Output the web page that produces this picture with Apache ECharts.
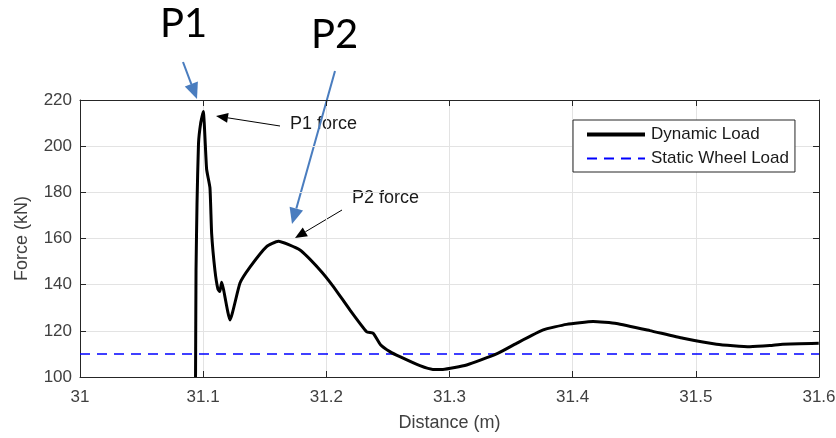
<!DOCTYPE html>
<html>
<head>
<meta charset="utf-8">
<script src="https://cdn.jsdelivr.net/npm/echarts@6/dist/echarts.min.js"></script>
<style>
  html, body { margin: 0; padding: 0; background: #ffffff; }
  #chart-container { width: 836px; height: 438px; }
</style>
</head>
<body>
<div id="chart-container"></div>
<script>
// distance (m) and force (kN)
const distance = [
    31.0938, 31.0939, 31.0942, 31.0950, 31.0962, 31.0980, 31.1001, 31.1028, 31.1055,
    31.1069, 31.1096, 31.1120, 31.1135, 31.1150, 31.1165, 31.1218, 31.1299, 31.1380,
    31.1515, 31.1610, 31.1786, 31.1948, 31.2054, 31.2192, 31.2327, 31.2381, 31.2440,
    31.2516, 31.2597, 31.2760, 31.2865, 31.2946, 31.3139, 31.3382, 31.3544, 31.3761,
    31.3950, 31.4166, 31.4356, 31.4627, 31.4897, 31.5168, 31.5438, 31.5601, 31.5706,
    31.5998
];
const dynamicLoad = [
    100, 111.7, 146, 175, 201, 210, 215, 190, 182,
    162, 146, 138, 137, 141, 138, 124.7, 140.7, 147.6,
    156.5, 158.8, 155, 146.4, 139.4, 129, 119.6, 118.9, 114,
    111, 108.8, 104.9, 103.3, 103.3, 105.2, 110, 114.6, 120.4,
    122.8, 124, 123.2, 120.1, 116.8, 114.2, 113.1, 113.6, 114.2,
    114.6
];
const staticDistance = [31, 31.6];
const staticLoad = [110, 110];

const xTicks = [31, 31.1, 31.2, 31.3, 31.4, 31.5, 31.6];
const yTicks = [100, 120, 140, 160, 180, 200, 220];

const axisColor = '#262626';
const labelColor = '#404040';
const gridColor = '#e3e3e3';
const fontName = '"Liberation Sans", Arial, sans-serif';

const makeArrow = (x1, y1, x2, y2, color, width, headLen, headHalf) => {
    const ang = Math.atan2(y2 - y1, x2 - x1);
    const bx = x2 - headLen * Math.cos(ang);
    const by = y2 - headLen * Math.sin(ang);
    const px = -Math.sin(ang) * headHalf;
    const py = Math.cos(ang) * headHalf;
    return [
        {
            type: 'line',
            shape: { x1: x1, y1: y1, x2: bx, y2: by },
            style: { stroke: color, lineWidth: width },
            silent: true
        },
        {
            type: 'polygon',
            shape: { points: [[x2, y2], [bx + px, by + py], [bx - px, by - py]] },
            style: { fill: color },
            silent: true
        }
    ];
};

const chartContainer = document.getElementById('chart-container');
const myChart = echarts.init(chartContainer);

const dynamicData = distance.map((d, i) => [d, dynamicLoad[i]]);
const staticData = staticDistance.map((d, i) => [d, staticLoad[i]]);

const blue = '#4a7dbf';

const options = {
    backgroundColor: '#ffffff',
    animation: false,
    grid: {
        left: 80,
        right: 17,
        top: 100,
        bottom: 61,
        outerBoundsMode: 'none'
    },
    legend: {
        orient: 'vertical',
        left: 573,
        top: 120,
        padding: [6, 6, 5, 12],
        itemGap: 7,
        itemWidth: 58,
        itemHeight: 16,
        borderColor: '#262626',
        borderWidth: 1,
        backgroundColor: '#ffffff',
        itemStyle: { opacity: 0 },
        textStyle: { fontFamily: fontName, fontSize: 17, color: '#1a1a1a', padding: [0, 0, 0, 1] },
        data: [
            { name: 'Dynamic Load', lineStyle: { width: 4 } },
            { name: 'Static Wheel Load' }
        ]
    },
    xAxis: [
        {
            type: 'value',
            min: xTicks[0],
            max: xTicks[xTicks.length - 1],
            interval: 0.1,
            name: 'Distance (m)',
            nameLocation: 'middle',
            nameGap: 37,
            nameTextStyle: { fontFamily: fontName, fontSize: 18, color: labelColor },
            axisLine: { show: true, lineStyle: { color: axisColor, width: 1 } },
            axisTick: { show: true, inside: true, length: 6, lineStyle: { color: axisColor } },
            axisLabel: {
                fontFamily: fontName, fontSize: 17, color: labelColor, margin: 12,
                showMinLabel: true, showMaxLabel: true, hideOverlap: false,
                formatter: v => String(Math.round(v * 10) / 10)
            },
            splitLine: { show: true, lineStyle: { color: gridColor, width: 1 } }
        },
        {
            type: 'value',
            position: 'top',
            min: xTicks[0],
            max: xTicks[xTicks.length - 1],
            interval: 0.1,
            axisLine: { show: true, lineStyle: { color: axisColor, width: 1 } },
            axisTick: { show: true, inside: true, length: 6, lineStyle: { color: axisColor } },
            axisLabel: { show: false },
            splitLine: { show: false }
        }
    ],
    yAxis: [
        {
            type: 'value',
            min: yTicks[0],
            max: yTicks[yTicks.length - 1],
            interval: 20,
            name: 'Force (kN)',
            nameLocation: 'middle',
            nameGap: 49,
            nameTextStyle: { fontFamily: fontName, fontSize: 18, color: labelColor },
            axisLine: { show: true, lineStyle: { color: axisColor, width: 1 } },
            axisTick: { show: true, inside: true, length: 6, lineStyle: { color: axisColor } },
            axisLabel: { fontFamily: fontName, fontSize: 17, color: labelColor, margin: 8 },
            splitLine: { show: true, lineStyle: { color: gridColor, width: 1 } }
        },
        {
            type: 'value',
            position: 'right',
            min: yTicks[0],
            max: yTicks[yTicks.length - 1],
            interval: 20,
            axisLine: { show: true, lineStyle: { color: axisColor, width: 1 } },
            axisTick: { show: true, inside: true, length: 6, lineStyle: { color: axisColor } },
            axisLabel: { show: false },
            splitLine: { show: false }
        }
    ],
    series: [
        {
            name: 'Dynamic Load',
            type: 'line',
            data: dynamicData,
            showSymbol: false,
            symbol: 'none',
            smooth: 0.15,
            clip: true,
            itemStyle: { color: '#000000' },
            lineStyle: { color: '#000000', width: 3 },
            z: 3
        },
        {
            name: 'Static Wheel Load',
            type: 'line',
            data: staticData,
            showSymbol: false,
            symbol: 'none',
            itemStyle: { color: '#0000ff' },
            lineStyle: { color: '#0000ff', width: 1.5, type: [10, 7] },
            z: 2
        }
    ],
    graphic: [
        {
            type: 'text',
            left: 160, top: 4,
            style: { text: 'P1', fontFamily: 'Lato, "Open Sans", sans-serif', fontSize: 40, fill: '#000000' }
        },
        {
            type: 'text',
            left: 311, top: 15,
            style: { text: 'P2', fontFamily: 'Lato, "Open Sans", sans-serif', fontSize: 40, fill: '#000000' }
        },
        {
            type: 'text',
            left: 290, top: 115,
            style: { text: 'P1 force', fontFamily: fontName, fontSize: 18, fill: '#1a1a1a' }
        },
        {
            type: 'text',
            left: 352, top: 189,
            style: { text: 'P2 force', fontFamily: fontName, fontSize: 18, fill: '#1a1a1a' }
        },
        ...makeArrow(183, 62, 197, 99, blue, 2, 16, 7),
        ...makeArrow(335, 71, 292, 224, blue, 2, 16, 7),
        ...makeArrow(280, 126, 216, 116, '#000000', 1, 12, 5),
        ...makeArrow(342, 210, 295, 238, '#000000', 1, 12, 5)
    ]
};

myChart.setOption(options);

window.addEventListener('resize', function () {
    myChart.resize();
});
</script>
</body>
</html>
